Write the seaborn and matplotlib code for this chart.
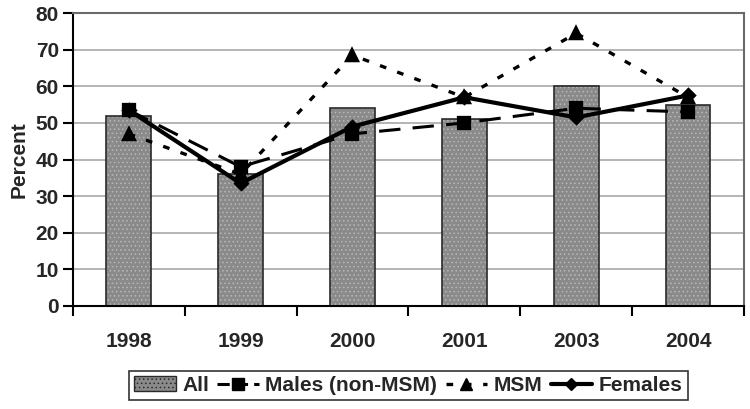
import seaborn as sns
import matplotlib.pyplot as plt
from matplotlib.lines import Line2D
from matplotlib.patches import Patch, Rectangle
from matplotlib.ticker import FixedLocator

# percent by year
years = ["1998", "1999", "2000", "2001", "2003", "2004"]
all_pct = [52, 36, 54, 51, 60, 55]
males_pct = [53.5, 38, 47, 50, 54, 53]
msm_pct = [47, 36, 68.5, 57, 74.5, 57]
females_pct = [53.5, 33.5, 49, 57, 51.5, 57.5]

sns.set_style("white")
plt.rcParams["font.family"] = ["Liberation Sans", "DejaVu Sans"]
plt.rcParams["font.weight"] = "bold"
plt.rcParams["hatch.linewidth"] = 0.6

fig, ax = plt.subplots(figsize=(7.5, 4.09), dpi=100)
fig.subplots_adjust(left=0.097, right=0.992, top=0.968, bottom=0.252)

bar_color = "#8a8a8a"
sns.barplot(x=years, y=all_pct, color=bar_color, saturation=1, width=0.4,
            edgecolor="#b8b8b8", linewidth=0, hatch="....", ax=ax, zorder=2)
# dark outline on top of the textured bars
for p in list(ax.patches):
    ax.add_patch(Rectangle(p.get_xy(), p.get_width(), p.get_height(), fill=False,
                           edgecolor="#2a2a2a", linewidth=1.2, zorder=2.5))

sns.pointplot(x=years, y=males_pct, color="black", markers="s", linestyles=(0, (7, 4)),
              markersize=8, linewidth=2.2, errorbar=None, ax=ax, zorder=3)
sns.pointplot(x=years, y=msm_pct, color="black", markers="^", linestyles=(0, (2, 3.5)),
              markersize=8, linewidth=2.4, errorbar=None, ax=ax, zorder=3)
sns.pointplot(x=years, y=females_pct, color="black", markers="D", linestyles="-",
              markersize=6, linewidth=3, errorbar=None, ax=ax, zorder=4)

ax.set_ylim(0, 80)
ax.set_yticks(range(0, 81, 10))
ax.set_xlim(-0.5, len(years) - 0.5)
ax.yaxis.grid(True, color="#a8a8a8", linewidth=1.2)
ax.set_axisbelow(True)

ax.set_xlabel("")
ax.set_ylabel("Percent", fontsize=15, fontweight="bold", labelpad=5)

ax.tick_params(axis="x", which="major", length=0, pad=19, labelsize=15)
ax.xaxis.set_minor_locator(FixedLocator([i - 0.5 for i in range(len(years) + 1)]))
ax.tick_params(axis="x", which="minor", length=7, width=1.5, direction="out", color="black")
ax.tick_params(axis="y", length=7, width=1.5, direction="out", color="black", pad=3, labelsize=15)
ax.tick_params(bottom=True, left=True, which="both")
ax.tick_params(axis="x", which="major", bottom=False)

for side in ["left", "bottom"]:
    ax.spines[side].set_color("black")
    ax.spines[side].set_linewidth(1.5)
for side in ["top", "right"]:
    ax.spines[side].set_color("#6a6a6a")
    ax.spines[side].set_linewidth(1.5)

handles = [
    Patch(facecolor=bar_color, edgecolor="#2a2a2a", hatch="...."),
    Line2D([], [], color="black", marker="s", linestyle=(0, (4, 2)), linewidth=2.2, markersize=8),
    Line2D([], [], color="black", marker="^", linestyle=(0, (2, 3.5)), linewidth=2.4, markersize=8),
    Line2D([], [], color="black", marker="D", linestyle="-", linewidth=3, markersize=6),
]
labels = ["All", "Males (non-MSM)", "MSM", "Females"]
leg = ax.legend(handles, labels, loc="center", bbox_to_anchor=(0.5, -0.271), ncol=4,
                frameon=True, fancybox=False, edgecolor="black", fontsize=15,
                handlelength=2.0, handletextpad=0.3, columnspacing=0.4,
                borderpad=0.25, borderaxespad=0)
leg.get_frame().set_linewidth(1.2)
for t in leg.get_texts():
    t.set_fontweight("bold")

fig.savefig("out.png", dpi=100)
